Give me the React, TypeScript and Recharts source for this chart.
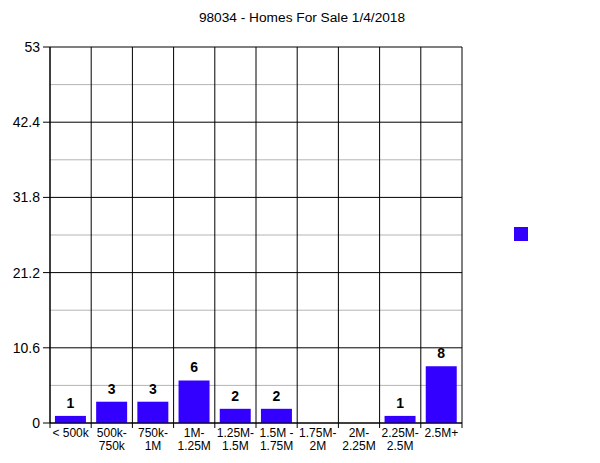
import {
  BarChart,
  Bar,
  XAxis,
  YAxis,
  CartesianGrid,
  LabelList,
  Legend,
  ReferenceLine,
} from 'recharts'

const categories = [
  '< 500k',
  '500k-\n750k',
  '750k-\n1M',
  '1M-\n1.25M',
  '1.25M-\n1.5M',
  '1.5M -\n1.75M',
  '1.75M-\n2M',
  '2M-\n2.25M',
  '2.25M-\n2.5M',
  '2.5M+',
]
const homes = [1, 3, 3, 6, 2, 2, 0, 0, 1, 8]
const yTicks = [0, 10.6, 21.2, 31.8, 42.4, 53]
const yMinorTicks = [5.3, 15.9, 26.5, 37.1, 47.7]

const data = categories.map((c, i) => ({ range: c, count: homes[i] }))

const font = '"Liberation Sans", Arial, sans-serif'
const barColor = '#3300ff'

function CategoryTick(props: any) {
  const { x, y, payload, width, visibleTicksCount, index } = props
  const half = payload.offset || width / visibleTicksCount / 2
  const lines = String(payload.value).split('\n')
  return (
    <g>
      <line x1={x - half} x2={x - half} y1={y} y2={y + 5} stroke="#000" />
      {index === visibleTicksCount - 1 && (
        <line x1={x + half} x2={x + half} y1={y} y2={y + 5} stroke="#000" />
      )}
      <text x={x} y={y} textAnchor="middle" fill="#000" fontSize={12} fontFamily={font}>
        {lines.map((l, i) => (
          <tspan key={i} x={x} dy={i === 0 ? 14 : 13}>
            {l}
          </tspan>
        ))}
      </text>
    </g>
  )
}

function ValueLabel(props: any) {
  const { x, y, width, value } = props
  if (!value) return null
  return (
    <text
      x={x + width / 2}
      y={y - 8}
      textAnchor="middle"
      fill="#000"
      fontSize={14}
      fontWeight="bold"
      fontFamily={font}
    >
      {value}
    </text>
  )
}

export default function App() {
  return (
    <div style={{ position: 'absolute', left: 0, top: 0, width: 600, height: 463 }}>
      <div
        style={{
          position: 'absolute',
          top: 10,
          left: 0,
          width: 604,
          textAlign: 'center',
          fontFamily: font,
          fontSize: 13.7,
          color: '#000',
        }}
      >
        98034 - Homes For Sale 1/4/2018
      </div>
      <BarChart
        width={600}
        height={463}
        data={data}
        margin={{ top: 47, right: 138, bottom: 0, left: 0 }}
        barCategoryGap="12%"
      >
        <CartesianGrid vertical={false} horizontalValues={yMinorTicks} stroke="#b4b4b4" />
        <CartesianGrid vertical={false} stroke="#000" />
        <XAxis
          dataKey="range"
          interval={0}
          tickSize={0}
          tickMargin={0}
          tickLine={false}
          stroke="#000"
          tick={<CategoryTick />}
          height={40}
        />
        <YAxis
          domain={[0, 53]}
          ticks={yTicks}
          interval={0}
          width={50}
          tickSize={7}
          tickMargin={3}
          stroke="#000"
          tick={{ fill: '#000', fontSize: 14, fontFamily: font }}
        />
        {categories.map((c) => (
          <ReferenceLine key={c} x={c} position="start" stroke="#000" />
        ))}
        <ReferenceLine x={categories[categories.length - 1]} position="end" stroke="#000" />
        <Legend
          layout="horizontal"
          verticalAlign="middle"
          align="center"
          wrapperStyle={{ position: 'absolute', left: 514, top: 227, width: 14, height: 14 }}
          content={() => (
            <div style={{ width: 14, height: 14, background: barColor }} />
          )}
        />
        <Bar dataKey="count" fill={barColor} isAnimationActive={false}>
          <LabelList dataKey="count" content={<ValueLabel />} />
        </Bar>
      </BarChart>
    </div>
  )
}
